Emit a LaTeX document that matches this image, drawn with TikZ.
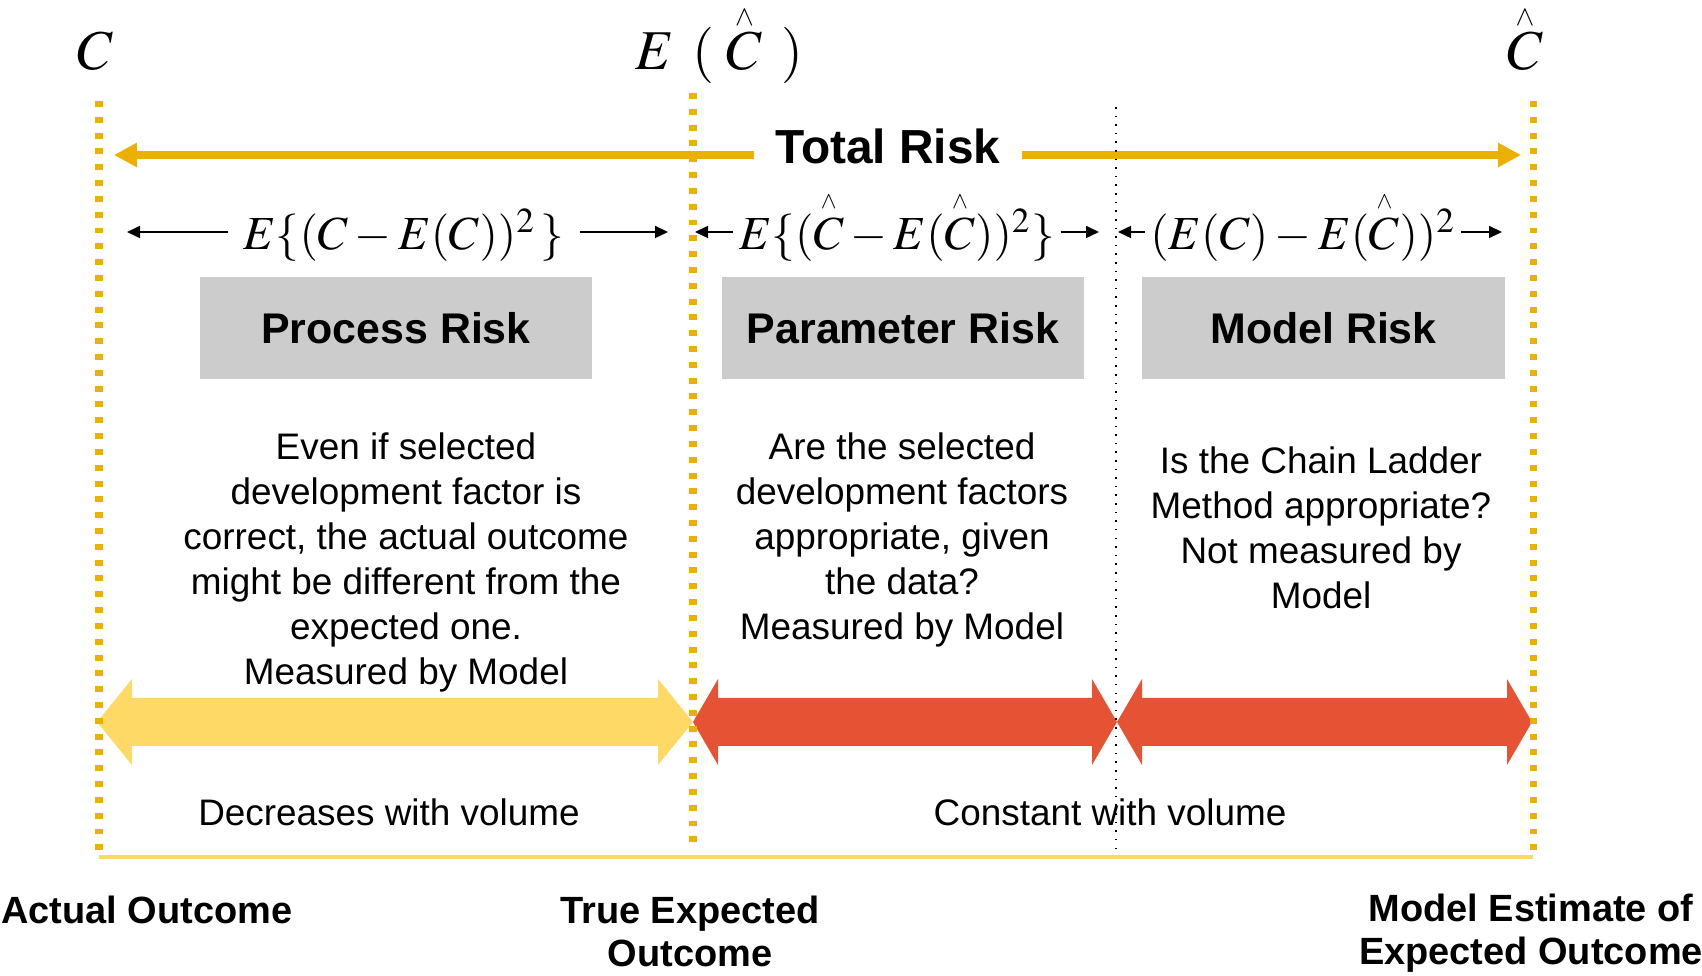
\documentclass[tikz,border=0pt]{standalone}
\usepackage{amsmath}
\usepackage{mathptmx}
\usepackage[no-math]{fontspec}
\setmainfont{Liberation Sans}
\usepackage{graphicx}
\usetikzlibrary{arrows.meta}

\definecolor{gold}{HTML}{EBB000}
\definecolor{paleyellow}{HTML}{FFD966}
\definecolor{riskred}{HTML}{E55334}
\definecolor{boxgray}{HTML}{CCCCCC}

% C with a small wedge set above it
\newcommand{\hatC}[1][0pt]{\overset{\raisebox{#1}{\scalebox{0.5}{$\wedge$}}}{C}}
% fat double arrow on the lower band: (left tip:right tip:head length)
\def\fatarrow[#1](#2:#3:#4){\fill[#1] (#2,722) -- ({#2+#4},679) -- ({#2+#4},698) -- ({#3-#4},698) -- ({#3-#4},679) -- (#3,722) -- ({#3-#4},765) -- ({#3-#4},746) -- ({#2+#4},746) -- ({#2+#4},765) -- cycle;}

\tikzset{
  marker/.style={gold, line width=2pt, dash pattern=on 1.7pt off 2.8pt},
  divider/.style={black, line width=0.45pt, dotted},
  riskbox/.style={fill=boxgray, minimum height=10.2mm, font=\bfseries\fontsize{12.2}{14}\selectfont},
  note/.style={align=center, font=\fontsize{10.5}{12.8}\selectfont},
  endlabel/.style={align=center, font=\bfseries\fontsize{10.8}{12.2}\selectfont},
  formula/.style={anchor=base, inner xsep=0.5mm, font=\fontsize{13.5}{16}\selectfont},
  varlabel/.style={anchor=base, inner ysep=1pt, font=\fontsize{16}{18}\selectfont},
  thinarrow/.style={line width=0.5pt, -{Triangle[length=3.7pt,width=3.4pt]}},
  totalarrow/.style={gold, line width=2.3pt, -{Triangle[length=6.5pt,width=6.5pt]}},
}

\begin{document}
\begin{tikzpicture}[x=0.1mm, y=-0.1mm]
  \useasboundingbox (0,0) rectangle (1702,976);

  %%% variables on top
  \node[varlabel] (cact) at (95,70) {$C$};
  \node[varlabel] (cexp) at (719,70) {$E\;\,(\;\hatC[-1.8pt]\;\,)$};
  \node[varlabel] (cest) at (1525,70) {$\hatC[-1.8pt]$};

  %%% total risk
  \coordinate (trL) at (114,155);
  \coordinate (trR) at (1521,155);
  \node[anchor=base, inner xsep=2.1mm, font=\bfseries\fontsize{13.6}{16}\selectfont] (ttl) at (888,164) {Total Risk};
  \draw[totalarrow] (ttl.west |- trL) -- (trL);
  \draw[totalarrow] (ttl.east |- trR) -- (trR);

  %%% formulas
  \node[formula, inner xsep=1.5mm] (fproc) at (404,250) {$E\{(C-E(C))^2\,\}$};
  \node[formula] (fpar) at (897,250) {$E\{(\hatC-E(\hatC))^2\}$};
  \node[formula] (fmod) at (1303,250) {$(E(C)-E(\hatC))^2$};
  \coordinate (procL) at (127,232);
  \coordinate (procR) at (668,232);
  \coordinate (parL) at (695,232);
  \coordinate (parR) at (1099,232);
  \coordinate (modL) at (1118,232);
  \coordinate (modR) at (1502,232);
  \draw[thinarrow] (fproc.west |- procL) -- (procL);
  \draw[thinarrow] (fproc.east |- procR) -- (procR);
  \draw[thinarrow] (fpar.west |- parL) -- (parL);
  \draw[thinarrow] (fpar.east |- parR) -- (parR);
  \draw[thinarrow] (fmod.west |- modL) -- (modL);
  \draw[thinarrow] (fmod.east |- modR) -- (modR);

  %%% boxes
  \node[riskbox, minimum width=39.2mm] (bproc) at (396,328) {Process Risk};
  \node[riskbox, minimum width=36.2mm] (bpar) at (903,328) {Parameter Risk};
  \node[riskbox, minimum width=36.3mm] (bmod) at (1323.5,328) {Model Risk};

  %%% descriptions
  \node[note] (nproc) at (406,562) {Even if selected\\development factor is\\correct, the actual outcome\\might be different from the\\expected one.\\Measured by Model};
  \node[note] (npar) at (902,540) {Are the selected\\development factors\\appropriate, given\\the data?\\Measured by Model};
  \node[note] (nmod) at (1321,528) {Is the Chain Ladder\\Method appropriate?\\Not measured by\\Model};

  %%% fat arrows
  \fatarrow[fill=paleyellow](97:693:35);
  \fatarrow[fill=riskred](693:1117:25);
  \fatarrow[fill=riskred](1117:1532:25);

  \node[note, anchor=base] (vdec) at (389,825) {Decreases with volume};
  \node[note, anchor=base] (vcon) at (1110,825) {Constant with volume};

  %%% vertical markers
  \draw[marker] (99,101) -- (99,857);
  \draw[marker] (693,93) -- (693,848);
  \draw[marker] (1533,101) -- (1533,857);
  \draw[divider] (1116,107) -- (1116,857);
  \draw[paleyellow, line width=0.9pt] (99,857) -- (1533,857);

  %%% outcomes
  \node[endlabel, anchor=base] (oact) at (147,923) {Actual Outcome};
  \node[endlabel] (otrue) at (690,931) {True Expected\\Outcome};
  \node[endlabel] (oest) at (1531,933) {Model Estimate of\\Expected Outcome};
\end{tikzpicture}
\end{document}
